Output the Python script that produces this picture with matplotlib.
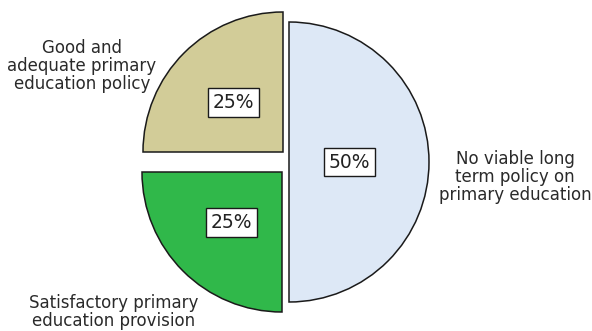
import matplotlib
matplotlib.use("Agg")
import matplotlib.pyplot as plt
import numpy as np

# slice shares (percent) and their names, counter-clockwise from 6 o'clock
shares = [50, 25, 25]
names = ["No viable long\nterm policy on\nprimary education",
         "Good and\nadequate primary\neducation policy",
         "Satisfactory primary\neducation provision"]
colors = ["#dde8f6", "#d2cc98", "#30b84a"]

W, H = 592, 331
CENTER = (286, 169)
RADIUS = 140
# per-slice shift of the wedge centre (pixels, y up)
shift = [(3, 0), (-3, 10), (-4, -10)]
# how far out the percent box sits, as a fraction of the radius
pct_dist = [0.43, 0.5, 0.51]
# outer label anchors (pixels, y up)
label_xy = [(515, 154), (82, 265), (114, 19)]

fig = plt.figure(figsize=(W / 100, H / 100), dpi=100)
ax = fig.add_axes([0, 0, 1, 1])

wedges, _ = ax.pie(shares, startangle=-90, counterclock=True, radius=RADIUS,
                   center=CENTER, frame=True,
                   colors=colors,
                   wedgeprops=dict(edgecolor="#1a1a1a", linewidth=1.1))

for w, (dx, dy), d, v in zip(wedges, shift, pct_dist, shares):
    cx, cy = CENTER[0] + dx, CENTER[1] + dy
    w.set_center((cx, cy))
    mid = np.deg2rad((w.theta1 + w.theta2) / 2)
    ax.text(cx + d * RADIUS * np.cos(mid), cy + d * RADIUS * np.sin(mid), f"{v}%",
            ha="center", va="center", fontsize=13.5, family="DejaVu Sans", color="#222222",
            bbox=dict(boxstyle="square,pad=0.25", facecolor="white", edgecolor="#1a1a1a", linewidth=1.0))

for (x, y), s in zip(label_xy, names):
    ax.text(x, y, s, ha="center", va="center", fontsize=12, family="DejaVu Sans",
            color="#2a2a2a", linespacing=1.02)

ax.set_xlim(0, W)
ax.set_ylim(0, H)
ax.set_aspect("equal")
ax.axis("off")

fig.savefig("out.png", dpi=100, facecolor="white")
